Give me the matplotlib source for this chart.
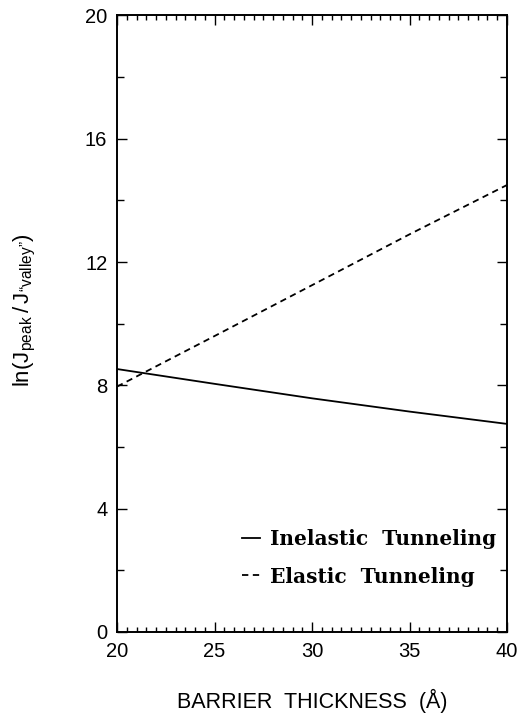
import matplotlib
matplotlib.use("Agg")
import matplotlib.pyplot as plt
from matplotlib.ticker import MultipleLocator

thickness = [20, 25, 30, 35, 40]
inelastic = [8.53, 8.05, 7.58, 7.15, 6.75]
elastic = [7.96, 9.60, 11.25, 12.90, 14.50]
xticks = [20, 25, 30, 35, 40]
yticks = [0, 4, 8, 12, 16, 20]

plt.rcParams['font.family'] = ['Liberation Sans', 'DejaVu Sans']
plt.rcParams['mathtext.fontset'] = 'custom'
plt.rcParams['mathtext.rm'] = 'Liberation Sans'

fig = plt.figure(figsize=(5.30, 7.17), dpi=100)
ax = fig.add_axes([0.2208, 0.1186, 0.7358, 0.8598])

ax.plot(thickness, inelastic, color='black', lw=1.3, ls='-', label='Inelastic  Tunneling')
ax.plot(thickness, elastic, color='black', lw=1.3, ls=(0, (3.5, 2.5)), label='Elastic  Tunneling')

ax.set_xlim(20, 40)
ax.set_ylim(0, 20)
ax.set_xticks(xticks)
ax.set_yticks(yticks)
ax.xaxis.set_minor_locator(MultipleLocator(0.5))
ax.yaxis.set_minor_locator(MultipleLocator(2))
ax.tick_params(which='both', direction='in', top=True, right=True, labelsize=14.5, pad=7, width=1.0)
ax.tick_params(which='major', length=7)
ax.tick_params(which='minor', length=3.5)
ax.tick_params(axis='y', which='minor', length=5)
for s in ax.spines.values():
    s.set_linewidth(1.4)

ax.set_xlabel('BARRIER  THICKNESS  (\u00c5)', fontsize=15.5, labelpad=20)
ax.set_ylabel('$\\mathregular{ln(J_{peak}\\,/\\,J_{\u201cvalley\u201d})}$', fontsize=16)
ax.yaxis.set_label_coords(-0.203, 0.522)

leg = ax.legend(loc='upper left', bbox_to_anchor=(0.295, 0.184), frameon=False,
                handlelength=0.9, handletextpad=0.5, labelspacing=0.89, borderpad=0,
                prop={'family': 'DejaVu Serif', 'weight': 'bold', 'size': 14.5})

fig.savefig('out.png', dpi=100)
